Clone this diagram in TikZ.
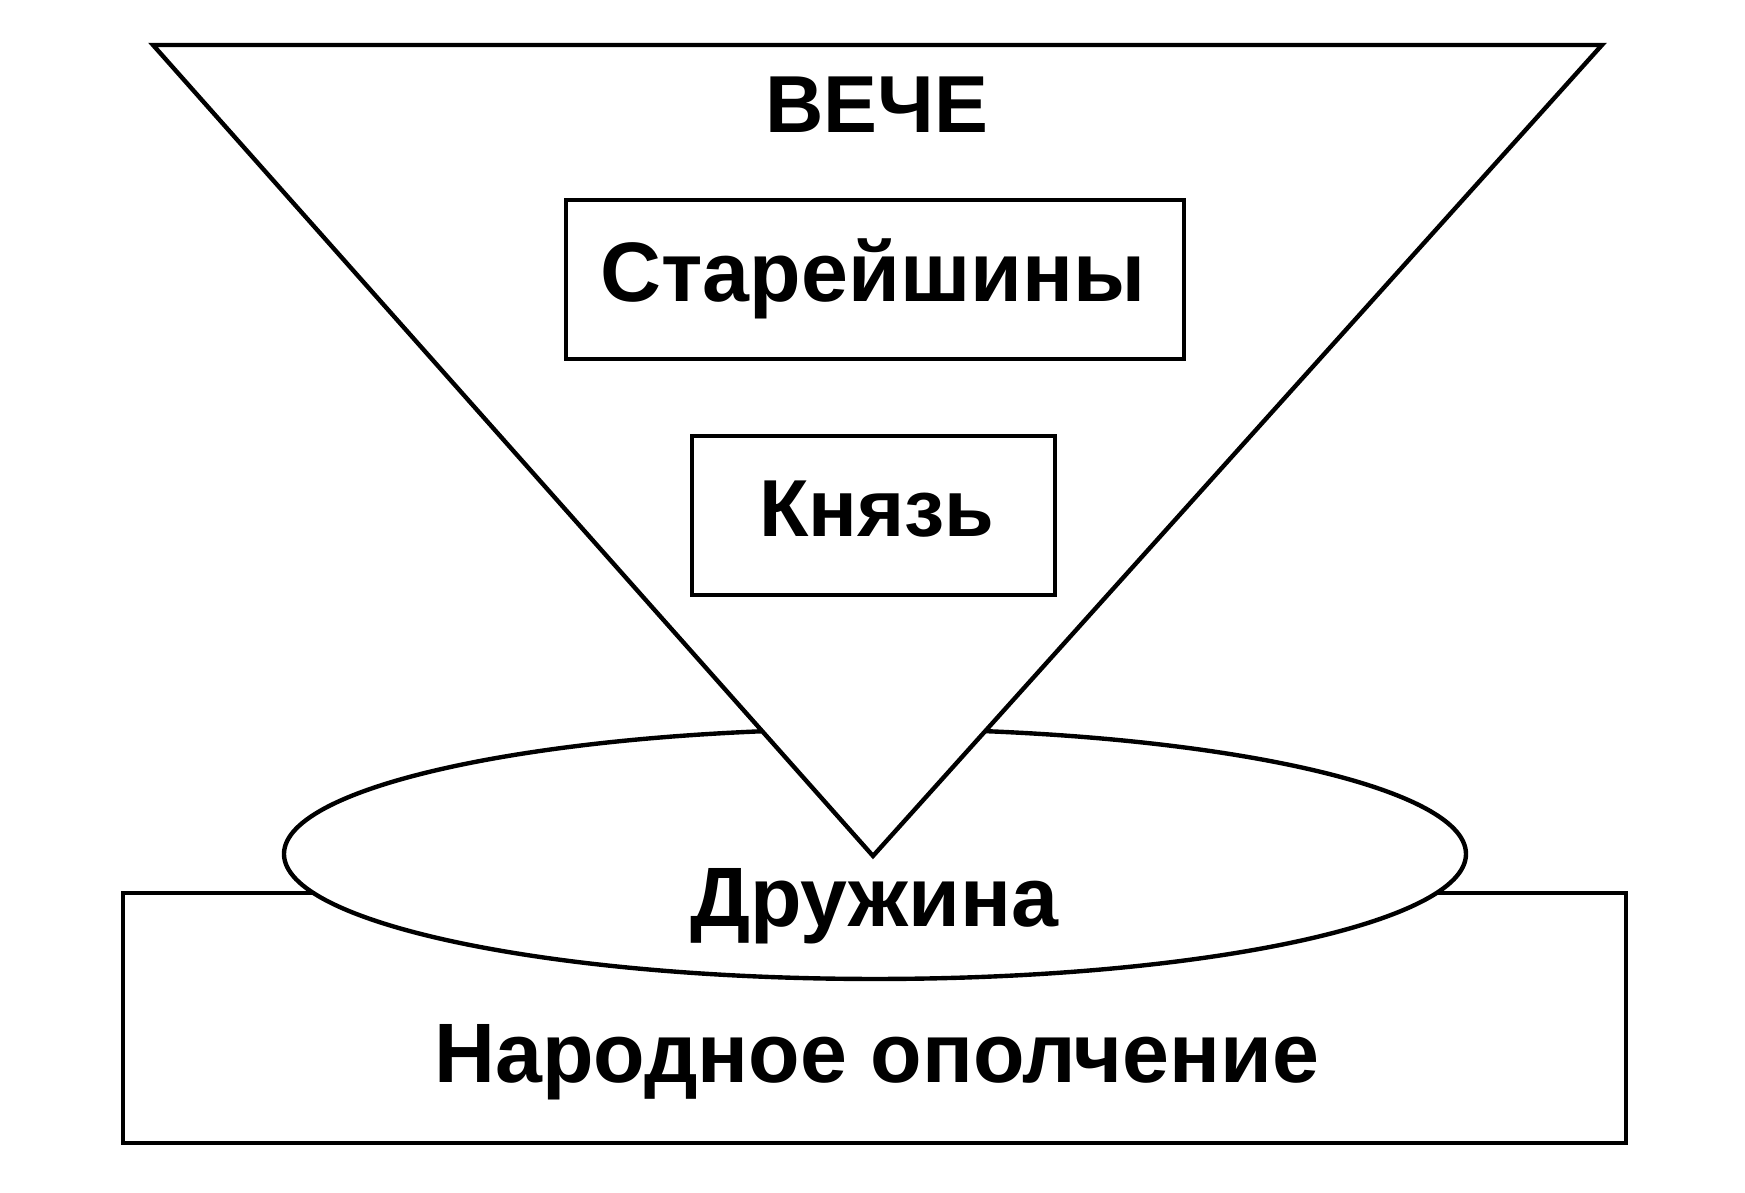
\documentclass[tikz,border=0pt]{standalone}
\usepackage{fontspec}
\setmainfont{Liberation Sans}
\usetikzlibrary{shapes.geometric,positioning}
\tikzset{
  outline/.style={
    draw=black,
    line width=1.25pt,
    fill=white
  },
  plainbox/.style={
    outline,
    inner sep=0pt
  },
  word/.style={
    font=\bfseries\fontsize{23pt}{27pt}\selectfont,
    text=black,
    inner sep=0pt,
    anchor=base
  },
  bigword/.style={
    word,
    font=\bfseries\fontsize{24pt}{28pt}\selectfont
  }
}

\begin{document}
\begin{tikzpicture}[x=1cm,y=1cm]

\useasboundingbox (0,0) rectangle (17.45,11.93);

\node[plainbox, minimum width=15.03cm, minimum height=2.50cm] (militia) at (8.745, 1.75) {};

\node[outline, ellipse, inner sep=0pt, minimum width=11.82cm, minimum height=2.50cm] (retinue) at (8.75, 3.39) {};

\coordinate (topleft) at (1.53, 11.48);
\coordinate (topright) at (16.02, 11.48);
\coordinate (apex) at (8.73, 3.37);
\draw[outline, line join=miter] (topleft) -- (topright) -- (apex) -- cycle;

\node[plainbox, minimum width=6.18cm, minimum height=1.59cm] (elders) at (8.75, 9.135) {};
\node[plainbox, minimum width=3.63cm, minimum height=1.59cm] (prince) at (8.735, 6.775) {};

\node[word] (vechetext) at (8.77, 10.60) {ВЕЧЕ};
\node[bigword] (elderstext) at (8.73, 8.91) {Старейшины};
\node[word] (princetext) at (8.77, 6.56) {Князь};
\node[bigword] (retinuetext) at (8.74, 2.66) {Дружина};
\node[bigword] (militiatext) at (8.77, 1.10) {Народное ополчение};

\end{tikzpicture}
\end{document}
